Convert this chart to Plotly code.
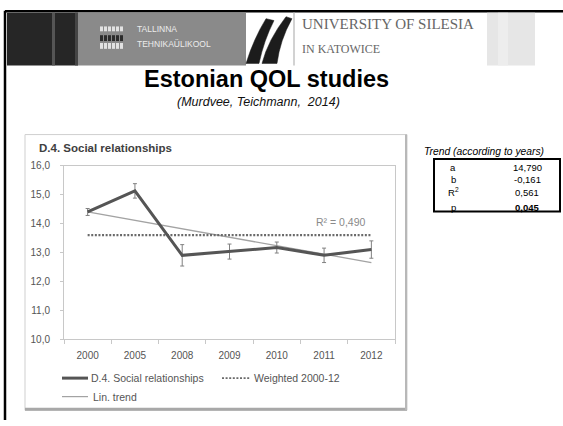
import plotly.graph_objects as go

W, H = 563, 426

# Survey results: D.4 Social relationships, mean score by year
years = ["2000", "2005", "2008", "2009", "2010", "2011", "2012"]
social_relationships = [14.40, 15.13, 12.90, 13.03, 13.17, 12.90, 13.10]
error_margin = [0.12, 0.25, 0.37, 0.26, 0.19, 0.25, 0.30]
weighted_2000_12 = 13.60
trend_years = ["2000", "2012"]
trend_values = [14.40, 12.65]
r2_label = "R² = 0,490"
y_ticks = [10, 11, 12, 13, 14, 15, 16]

# Regression summary table
trend_rows = ["a", "b", "R<sup>2</sup>", "p"]
trend_stats = ["14,790", "-0,161", "0,561", "<b>0,045</b>"]

FONT = "Liberation Sans, Arial, sans-serif"
SERIF = "Liberation Serif, Times New Roman, serif"


def px(x):
    return x / W


def py(y):
    return 1 - y / H


def rect(x0, y0, x1, y1, fill, line=None, width=0, layer="above"):
    return dict(type="rect", xref="paper", yref="paper",
                x0=px(x0), x1=px(x1), y0=py(y1), y1=py(y0),
                fillcolor=fill, layer=layer,
                line=dict(color=line or "rgba(0,0,0,0)", width=width))


def hline(x0, x1, y, color, width, dash="solid"):
    return dict(type="line", xref="paper", yref="paper",
                x0=px(x0), x1=px(x1), y0=py(y), y1=py(y),
                line=dict(color=color, width=width, dash=dash))


def vline(x, y0, y1, color, width):
    return dict(type="line", xref="paper", yref="paper",
                x0=px(x), x1=px(x), y0=py(y0), y1=py(y1),
                line=dict(color=color, width=width))


def path(cmds, fill):
    parts = []
    for c in cmds:
        op, *pts = c
        coords = " ".join(f"{px(pts[i]):.5f},{py(pts[i + 1]):.5f}" for i in range(0, len(pts), 2))
        parts.append(f"{op} {coords}" if coords else op)
    return dict(type="path", xref="paper", yref="paper", path=" ".join(parts),
                fillcolor=fill, line=dict(color=fill, width=0.5))


def text(x, y, s, size, color="#000", xanchor="left", family=FONT):
    return dict(x=px(x), y=py(y), xref="paper", yref="paper", text=s,
                showarrow=False, xanchor=xanchor, yanchor="middle",
                font=dict(size=size, color=color, family=family))


DOTS = "2px,1.6px"

fig = go.Figure()

# Linear trend
fig.add_trace(go.Scatter(x=trend_years, y=trend_values, mode="lines",
                         line=dict(color="#a3a3a3", width=1.3),
                         name="Lin. trend", hoverinfo="skip"))
# Weighted mean 2000-12
fig.add_trace(go.Scatter(x=years, y=[weighted_2000_12] * len(years), mode="lines",
                         line=dict(color="#6a6a6a", width=2.2, dash=DOTS),
                         name="Weighted 2000-12"))
# Yearly means with error bars
fig.add_trace(go.Scatter(x=years, y=social_relationships, mode="lines",
                         line=dict(color="#555555", width=3),
                         error_y=dict(type="data", array=error_margin, visible=True,
                                      color="#808080", thickness=1, width=2),
                         name="D.4. Social relationships"))

shapes = []

# Slide frame
shapes.append(hline(5, 563, 6.5, "#000", 2.5))
shapes.append(vline(5, 6, 426, "#000", 2.5))

# Header banner
shapes.append(rect(7, 8, 78, 62, "#262626"))
shapes.append(rect(52, 8, 55, 62, "#555555"))
shapes.append(rect(75, 8, 78, 62, "#454545"))
shapes.append(rect(78, 8, 246, 62, "#8a8a8a"))
for row_top, row_bot, col in [(22, 27, "#e2e2e2"), (31, 37, "#2b2b2b"), (39, 45, "#e2e2e2")]:
    for bx in [100, 104, 108, 112, 116, 120]:
        shapes.append(rect(bx, row_top, bx + 3, row_bot, col))
shapes.append(path([("M", 246, 60), ("L", 259, 60), ("Q", 264, 36, 274, 16),
                    ("L", 266, 14), ("Q", 254, 34, 246, 60), ("Z",)], "#1c1c1c"))
shapes.append(path([("M", 262, 60), ("Q", 268, 36, 286, 12), ("L", 292, 14),
                    ("Q", 280, 36, 277, 60), ("Z",)], "#1c1c1c"))
shapes.append(rect(293, 8, 295, 62, "#d2d2d2"))
shapes.append(rect(487, 8, 535, 62, "#e6e6e6"))
shapes.append(rect(498, 8, 508, 62, "#ededed"))

# Chart panel
shapes.append(rect(25, 133, 407, 416, "#ffffff", "#cfcfcf", 1, layer="below"))
shapes.append(hline(25, 407, 415, "#a8a8a8", 3))
shapes.append(vline(406, 133, 416, "#b8b8b8", 2))

# Legend samples
shapes.append(hline(62, 88, 383, "#555555", 3))
shapes.append(hline(222, 250, 383, "#6a6a6a", 1.8, DOTS))
shapes.append(hline(62, 88, 402, "#a3a3a3", 1.2))

# Trend table box
shapes.append(rect(434, 158, 560, 212, "rgba(0,0,0,0)", "#000", 2))

annotations = [
    text(135, 25, "TALLINNA", 8.5, "#ececec"),
    text(135, 40, "TEHNIKAÜLIKOOL", 8.5, "#ececec"),
    text(300, 20, "UNIVERSITY OF SILESIA", 15, "#666", family=SERIF),
    text(300, 45, "IN KATOWICE", 12, "#666", family=SERIF),
    text(266, 76, "<b>Estonian QOL studies</b>", 23.5, "#000", "center"),
    text(258, 100, "<i>(Murdvee, Teichmann,\u00a0 2014)</i>", 12.5, "#111", "center"),
    text(37, 147, "<b>D.4. Social relationships</b>", 11.5, "#404040"),
    dict(x=5.35, y=14.07, xref="x", yref="y", text=r2_label, showarrow=False,
         font=dict(size=10.5, color="#8a8a8a", family=FONT)),
    text(89, 383, "D.4. Social relationships", 10.5, "#555"),
    text(252, 383, "Weighted 2000-12", 10.5, "#555"),
    text(91, 402, "Lin. trend", 10.5, "#555"),
    text(422, 150, "<i>Trend (according to years)</i>", 10.3, "#000"),
]
row_y = [167, 179, 192, 208]
for lab, val, y in zip(trend_rows, trend_stats, row_y):
    annotations.append(text(453, y, lab, 9.5, "#000", "center"))
    annotations.append(text(527, y, val, 9.5, "#000", "center"))

fig.update_layout(
    width=W, height=H,
    margin=dict(l=0, r=0, t=0, b=0),
    paper_bgcolor="white", plot_bgcolor="rgba(0,0,0,0)",
    separators=", ",
    showlegend=False,
    font=dict(family=FONT),
    shapes=shapes,
    annotations=annotations,
    xaxis=dict(type="category", categoryorder="array", categoryarray=years,
               domain=[px(64), px(395)], range=[-0.5, 6.5],
               showline=True, linecolor="#c8c8c8", linewidth=1, mirror=True,
               ticks="outside", tickson="boundaries", ticklen=4, tickcolor="#c8c8c8",
               ticklabelstandoff=7,
               tickfont=dict(size=10, color="#555"), showgrid=False, fixedrange=True),
    yaxis=dict(domain=[py(343), py(165)], range=[10, 16], tickvals=y_ticks,
               tickformat=".1f", showline=True, linecolor="#c8c8c8", linewidth=1,
               mirror=True, ticks="outside", ticklen=3, tickcolor="#c8c8c8",
               ticklabelstandoff=8,
               tickfont=dict(size=10, color="#555"), showgrid=False, zeroline=False,
               fixedrange=True),
)

fig.write_html("out.html")
